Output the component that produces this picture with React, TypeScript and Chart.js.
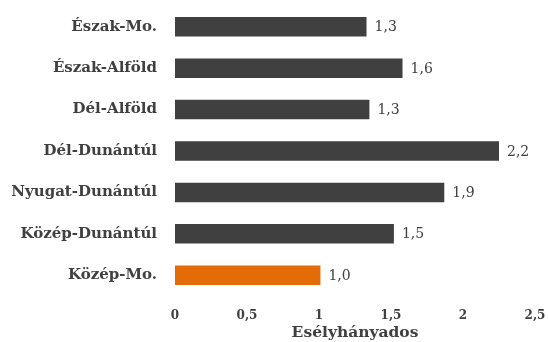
import React, { useEffect, useRef } from "react";
import { Chart, registerables } from "chart.js";

Chart.register(...registerables);

const categories = [
  "Észak-Mo.",
  "Észak-Alföld",
  "Dél-Alföld",
  "Dél-Dunántúl",
  "Nyugat-Dunántúl",
  "Közép-Dunántúl",
  "Közép-Mo.",
];
const oddsRatios = [1.33, 1.58, 1.35, 2.25, 1.87, 1.52, 1.01];
const valueLabels = ["1,3", "1,6", "1,3", "2,2", "1,9", "1,5", "1,0"];
const barColors = ["#404040", "#404040", "#404040", "#404040", "#404040", "#404040", "#E36C09"];
const xTicks = [0, 0.5, 1, 1.5, 2, 2.5];
const xTitle = "Esélyhányados";

const FONT = "'DejaVu Serif', serif";

const valueLabelPlugin = {
  id: "valueLabels",
  afterDatasetsDraw(chart: any) {
    const ctx = chart.ctx;
    const meta = chart.getDatasetMeta(0);
    ctx.save();
    ctx.font = `14px ${FONT}`;
    ctx.fillStyle = "#404040";
    ctx.textAlign = "left";
    ctx.textBaseline = "middle";
    meta.data.forEach((bar: any, i: number) => {
      ctx.fillText(valueLabels[i], bar.x + 8, bar.y + 1);
    });
    ctx.restore();
  },
};

export default function App() {
  const ref = useRef<HTMLCanvasElement>(null);
  useEffect(() => {
    document.body.style.margin = "0";
    const chart = new Chart(ref.current!, {
      type: "bar",
      data: {
        labels: categories,
        datasets: [
          {
            data: oddsRatios,
            backgroundColor: barColors,
            barPercentage: 0.94,
            categoryPercentage: 0.5,
          },
        ],
      },
      options: {
        indexAxis: "y",
        animation: false,
        responsive: false,
        maintainAspectRatio: false,
        layout: { padding: { top: 6, right: 13, left: 0, bottom: 0 } },
        plugins: { legend: { display: false }, tooltip: { enabled: false } },
        scales: {
          x: {
            min: 0,
            max: 2.5,
            grid: { display: false, drawTicks: false },
            border: { display: false },
            afterBuildTicks(scale: any) {
              scale.ticks = xTicks.map((v) => ({ value: v }));
            },
            afterFit(scale: any) {
              scale.height = 46;
              scale.paddingLeft = 0;
              scale.paddingRight = 0;
            },
            ticks: {
              padding: 13,
              color: "#404040",
              font: { family: FONT, size: 12, weight: "bold" },
              callback: (v: any) => String(v).replace(".", ","),
            },
            title: {
              display: true,
              text: xTitle,
              color: "#404040",
              padding: { top: 0, bottom: 0 },
              font: { family: FONT, size: 15.5, weight: "bold" },
            },
          },
          y: {
            grid: { display: false, drawTicks: false },
            border: { display: false },
            afterFit(scale: any) {
              scale.width = 175;
              scale.paddingTop = 0;
              scale.paddingBottom = 0;
            },
            ticks: {
              padding: 18,
              color: "#404040",
              font: { family: FONT, size: 15, weight: "bold" },
            },
          },
        },
      },
      plugins: [valueLabelPlugin],
    });
    return () => chart.destroy();
  }, []);
  return (
    <div style={{ position: "absolute", left: 0, top: 0, width: 548, height: 342 }}>
      <canvas ref={ref} width={548} height={342} />
    </div>
  );
}
